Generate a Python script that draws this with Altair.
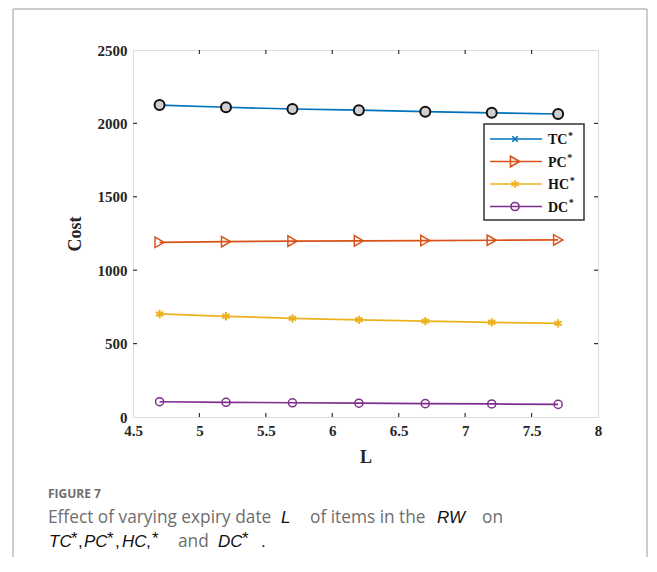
import altair as alt
import pandas as pd

# ---- data ----
L_values = [4.7, 5.2, 5.7, 6.2, 6.7, 7.2, 7.7]
TC = [2125, 2110, 2098, 2090, 2080, 2072, 2064]
PC = [1190, 1194, 1198, 1200, 1202, 1204, 1206]
HC = [702, 686, 672, 662, 653, 645, 638]
DC = [104, 100, 97, 94, 91, 89, 86]
series_names = ["TC", "PC", "HC", "DC"]
series_colors = ["#0072BD", "#D95319", "#EDB120", "#7E2F8E"]
x_tick_labels = [4.5, 5, 5.5, 6, 6.5, 7, 7.5, 8]
y_tick_labels = [0, 500, 1000, 1500, 2000, 2500]
x_inner_ticks = [5, 5.5, 6, 6.5, 7, 7.5]
y_inner_ticks = [500, 1000, 1500, 2000]

W, H = 465, 367
SERIF = "Liberation Serif"
SANS = "Open Sans"
ITAL = "Liberation Sans"

rows = []
for name, vals in zip(series_names, [TC, PC, HC, DC]):
    for l, v in zip(L_values, vals):
        rows.append({"L": l, "value": v, "series": name})
df = pd.DataFrame(rows)

xs = alt.Scale(domain=[4.5, 8], nice=False, zero=False)
ys = alt.Scale(domain=[0, 2500], nice=False, zero=True)
xa = alt.Axis(values=x_tick_labels, format="~f", ticks=False, domain=False, grid=False,
              labelFlush=False, labelOverlap=False, labelPadding=6, title="L",
              titleFont=SERIF, titleFontSize=18, titleFontWeight="bold", titleColor="#262626",
              titlePadding=10, labelFont=SERIF, labelFontSize=15, labelFontWeight="bold",
              labelColor="#262626")
ya = alt.Axis(values=y_tick_labels, format="d", ticks=False, domain=False, grid=False,
              labelFlush=False, labelOverlap=False, labelPadding=6, title="Cost",
              titleFont=SERIF, titleFontSize=18, titleFontWeight="bold", titleColor="#262626",
              titlePadding=13, labelFont=SERIF, labelFontSize=15, labelFontWeight="bold",
              labelColor="#262626")

X = alt.X("L:Q", scale=xs, axis=xa)
Y = alt.Y("value:Q", scale=ys, axis=ya)

color = alt.Color("series:N", scale=alt.Scale(domain=series_names, range=series_colors), legend=None)

lines = alt.Chart(df).mark_line(strokeWidth=1.7).encode(x=X, y=Y, color=color, detail="series:N")

ASTER = "M0,-1L0,1M-0.87,-0.5L0.87,0.5M-0.87,0.5L0.87,-0.5"
XMARK = "M-1,-1L1,1M-1,1L1,-1"

def pts(name, **kw):
    return alt.Chart(df).transform_filter(alt.datum.series == name).mark_point(**kw).encode(x=X, y=Y)

p_tc = pts("TC", shape="circle", filled=True, fill="#cfcfcf", stroke="#111111", strokeWidth=2, size=100, opacity=1)
p_pc = pts("PC", shape="triangle-right", filled=False, stroke="#D95319", strokeWidth=1.5, size=110, opacity=1)
p_hc = pts("HC", shape=ASTER, filled=False, stroke="#EDB120", strokeWidth=2, size=70, opacity=1)
p_dc = pts("DC", shape="circle", filled=False, stroke="#7E2F8E", strokeWidth=1.5, size=65, opacity=1)

# inside ticks (box on)
xt = pd.DataFrame({"L": x_inner_ticks})
yt = pd.DataFrame({"value": y_inner_ticks})
tk = dict(color="#333333", strokeWidth=1.2)
t_bot = alt.Chart(xt).mark_rule(**tk).encode(x=X, y=alt.value(H), y2=alt.value(H - 4))
t_top = alt.Chart(xt).mark_rule(**tk).encode(x=X, y=alt.value(0), y2=alt.value(4))
t_left = alt.Chart(yt).mark_rule(**tk).encode(y=Y, x=alt.value(0), x2=alt.value(4))
t_right = alt.Chart(yt).mark_rule(**tk).encode(y=Y, x=alt.value(W), x2=alt.value(W - 4))

one = pd.DataFrame({"a": [0]})

def txt(text, x, y, font, size, color, weight="normal", style="normal"):
    return alt.Chart(one).mark_text(text=text, align="left", baseline="alphabetic", font=font,
                                     fontSize=size, color=color, fontWeight=weight,
                                     fontStyle=style).encode(x=alt.value(x), y=alt.value(y))

# legend (drawn manually)
leg_layers = [alt.Chart(one).mark_rect(fill="white", stroke="#333333", strokeWidth=1.5).encode(
    x=alt.value(351), x2=alt.value(451), y=alt.value(74), y2=alt.value(170))]
leg_y = [89, 111.5, 134, 156.5]
leg_shapes = [XMARK, "triangle-right", ASTER, "circle"]
leg_sizes = [30, 110, 70, 65]
leg_label_w = [19.5, 18.8, 21.2, 20.3]
for name, col, yy, shp, sz, lw in zip(series_names, series_colors, leg_y, leg_shapes, leg_sizes, leg_label_w):
    leg_layers.append(alt.Chart(one).mark_rule(color=col, strokeWidth=1.7).encode(
        x=alt.value(357), x2=alt.value(409), y=alt.value(yy)))
    leg_layers.append(alt.Chart(one).mark_point(shape=shp, filled=False, stroke=col, strokeWidth=1.6,
                                                size=sz, opacity=1).encode(x=alt.value(382), y=alt.value(yy)))
    leg_layers.append(txt(name, 415, yy + 5, SERIF, 14, "#111111", weight="bold"))
    leg_layers.append(txt("*", 415 + lw + 0.5, yy - 0.5, SERIF, 10, "#111111", weight="bold"))

# caption (x, y relative to the plot's top-left corner)
GRAY = "#6e6e6e"
B2, B3 = 473, 497
FS, FI = 17.3, 17
cap = [
    txt("FIGURE 7", -85, 448, SANS, 12, GRAY, weight="bold"),
    txt("Effect of varying expiry date", -85, B2, SANS, FS, GRAY),
    txt("L", 148, B2, ITAL, FI, "#111111", style="italic"),
    txt("of items in the", 177, B2, SANS, FS, GRAY),
    txt("RW", 304, B2, ITAL, FI, "#111111", style="italic"),
    txt("on", 349, B2, SANS, FS, GRAY),
    txt("TC", -84, B3, ITAL, FI, "#111111", style="italic"),
    txt("*", -62, B3 - 3, ITAL, FI, "#111111"),
    txt(",", -55, B3, ITAL, FI, "#111111"),
    txt("PC", -49, B3, ITAL, FI, "#111111", style="italic"),
    txt("*", -26, B3 - 3, ITAL, FI, "#111111"),
    txt(",", -18, B3, ITAL, FI, "#111111"),
    txt("HC", -11, B3, ITAL, FI, "#111111", style="italic"),
    txt(",", 13, B3, ITAL, FI, "#111111"),
    txt("*", 19, B3 - 3, ITAL, FI, "#111111"),
    txt("and", 45, B3, SANS, FS, GRAY),
    txt("DC", 85, B3, ITAL, FI, "#111111", style="italic"),
    txt("*", 109, B3 - 3, ITAL, FI, "#111111"),
    txt(".", 128, B3, ITAL, FI, "#111111"),
]

frame = alt.Chart(one).mark_rect(fill=None, stroke="#9a9a9a", strokeWidth=1).encode(
    x=alt.value(-120), x2=alt.value(514), y=alt.value(-41), y2=alt.value(600))

chart = alt.layer(
    frame, lines, p_tc, p_pc, p_hc, p_dc, t_bot, t_top, t_left, t_right, *leg_layers, *cap
).properties(
    width=W, height=H,
    autosize=alt.AutoSizeParams(type="none"),
    padding={"left": 125, "top": 42, "right": 50, "bottom": 140},
).configure_view(stroke="#333333", strokeWidth=1.5).configure(background="white")

chart.save("out.html", embed_options={"renderer": "svg", "actions": False})
